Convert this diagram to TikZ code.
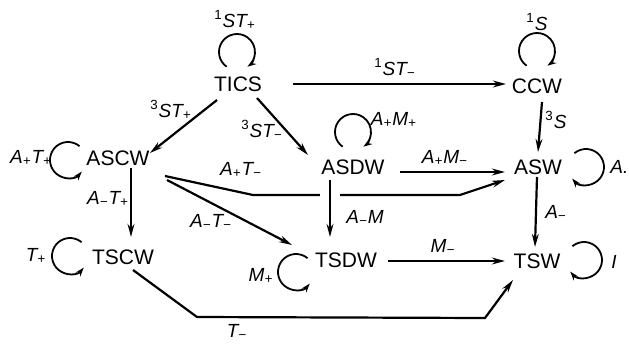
\documentclass[tikz,border=0pt]{standalone}
\usepackage{fontspec}
\setmainfont{Liberation Sans}
\usetikzlibrary{arrows.meta,calc}
\newcommand{\sbp}{\textsubscript{+}}
\newcommand{\sbm}{\textsubscript{−}}
\newcommand{\spn}[1]{\textsuperscript{\upshape #1}}
\begin{document}
\begin{tikzpicture}[x=0.5pt,y=-0.5pt,
  state/.style={font=\fontsize{10.5}{12}\selectfont, inner sep=0pt},
  lbl/.style={font=\fontsize{9.5}{10}\selectfont\itshape, inner sep=0pt},
  conn/.style={line width=1.1pt, -{Stealth[length=6.5pt,width=3.4pt]}},
  selfloop/.style={line width=0.9pt, -{Stealth[length=4.5pt,width=3pt]}}]
\fill[white] (0,0) rectangle (629,344);
\useasboundingbox (0,0) rectangle (629,344);

% states
\node[state] (tics) at (238,84) {TICS};
\node[state] (ccw)  at (537,86) {CCW};
\node[state] (ascw) at (118,158) {ASCW};
\node[state] (asdw) at (353,167) {ASDW};
\node[state] (asw)  at (538,167) {ASW};
\node[state] (tscw) at (123,257) {TSCW};
\node[state] (tsdw) at (346,260) {TSDW};
\node[state] (tsw)  at (537,261) {TSW};

% self loops
\draw[selfloop] ($(tics)+(-1,-32)$) ++(235:9pt) arc[start angle=235,end angle=-55,radius=9pt];
\draw[selfloop] ($(ccw)+(0,-35)$) ++(235:9pt) arc[start angle=235,end angle=-55,radius=9pt];
\draw[selfloop] ($(asdw)+(0,-35)$) ++(235:9pt) arc[start angle=235,end angle=-55,radius=9pt];
\draw[selfloop] ($(ascw)+(-50,2)$) ++(50:9pt) arc[start angle=50,end angle=320,radius=9pt];
\draw[selfloop] ($(tscw)+(-53,-1)$) ++(50:9pt) arc[start angle=50,end angle=320,radius=9pt];
\draw[selfloop] ($(tsdw)+(-50,12)$) ++(50:9pt) arc[start angle=50,end angle=320,radius=9pt];
\draw[selfloop] ($(asw)+(48,0)$) ++(130:9pt) arc[start angle=130,end angle=-140,radius=9pt];
\draw[selfloop] ($(tsw)+(47,-1)$) ++(130:9pt) arc[start angle=130,end angle=-140,radius=9pt];

% loop labels
\node[lbl] (l1) at (235,20) {\spn{1}ST\sbp};
\node[lbl] (l2) at (537,22) {\spn{1}S};
\node[lbl] (l3) at (31,158) {A\sbp T\sbp};
\node[lbl] (l4) at (394,120) {A\sbp M\sbp};
\node[lbl,anchor=west] (l5) at (610,167) {A.};
\node[lbl] (l6) at (36,256) {T\sbp};
\node[lbl] (l7) at (261,276) {M\sbp};
\node[lbl] (l8) at (614,262) {I};

% connectors
\draw[conn] ($(ascw)+(47,18)$) -- (253,195) -- (460,195) -- ($(asw)+(-33,13)$);
\draw[conn] ($(tics)+(55,0)$) -- ($(ccw)+(-31,-2)$);
\draw[conn] ($(tics)+(-21,16)$) -- ($(ascw)+(32,-5)$);
\draw[conn] ($(tics)+(19,14)$) -- ($(asdw)+(-45,-12)$);
\draw[conn] ($(ccw)+(5,16)$) -- ($(asw)+(0,-15)$);
\draw[conn] ($(asdw)+(47,5)$) -- ($(asw)+(-33,5)$);
\draw[conn] ($(ascw)+(49,22)$) -- ($(tsdw)+(-54,-15)$);
\draw[conn] ($(ascw)+(13,10)$) -- ($(tscw)+(8,-20)$);
\draw[conn, preaction={draw=white,line width=10pt,-}] ($(asdw)+(-23,13)$) -- ($(tsdw)+(-16,-23)$);
\draw[conn] ($(asw)+(-1,10)$) -- ($(tsw)+(-2,-14)$);
\draw[conn] ($(tsdw)+(42,1)$) -- ($(tsw)+(-32,0)$);
\draw[conn] ($(tscw)+(10,13)$) -- (197,317) -- (485,318) -- ($(tsw)+(-24,19)$);

% connector labels
\node[lbl] (e1) at (395,68) {\spn{1}ST\sbm};
\node[lbl] (e2) at (171,110) {\spn{3}ST\sbp};
\node[lbl] (e3) at (262,130) {\spn{3}ST\sbm};
\node[lbl] (e4) at (556,120) {\spn{3}S};
\node[lbl] (e5) at (445,158) {A\sbp M\sbm};
\node[lbl] (e6) at (241,170) {A\sbp T\sbm};
\node[lbl] (e7) at (211,222) {A\sbm T\sbm};
\node[lbl] (e8) at (108,199) {A\sbm T\sbp};
\node[lbl] (e9) at (365,218) {A\sbm M};
\node[lbl] (e10) at (556,213) {A\sbm};
\node[lbl] (e11) at (443,247) {M\sbm};
\node[lbl] (e12) at (237,332) {T\sbm};
\end{tikzpicture}
\end{document}
